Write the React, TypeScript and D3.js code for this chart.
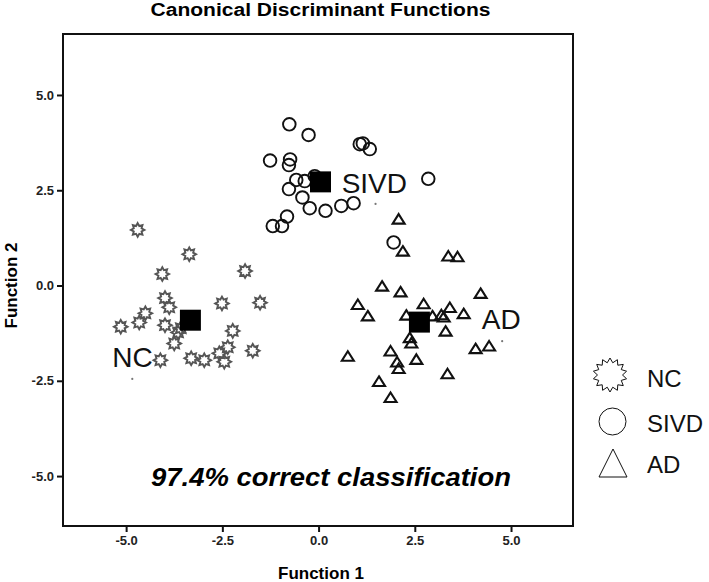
import React, { useEffect, useRef } from 'react';
import { select, scaleLinear, axisBottom, axisLeft, symbol, symbolSquare } from 'd3';

// group NC (stars)
const ncPoints = [
  [-4.7, 1.46], [-3.36, 0.82], [-4.06, 0.3], [-1.91, 0.38], [-3.99, -0.33],
  [-3.88, -0.57], [-2.51, -0.47], [-1.52, -0.45], [-4.5, -0.73], [-4.66, -0.97],
  [-5.14, -1.08], [-3.99, -1.04], [-3.65, -1.23], [-3.75, -1.52], [-2.23, -1.19],
  [-2.36, -1.62], [-2.58, -1.78], [-2.45, -2.0], [-1.71, -1.71], [-4.11, -1.96],
  [-3.31, -1.91], [-2.97, -1.96], [-3.58, -1.12],
];

// group SIVD (circles)
const sivdPoints = [
  [-0.76, 4.23], [-0.26, 3.95], [1.07, 3.71], [1.15, 3.73], [1.33, 3.58],
  [-1.26, 3.28], [-0.74, 3.31], [-0.77, 3.16], [-0.58, 2.77], [-0.36, 2.74],
  [-0.1, 2.87], [-0.77, 2.53], [-0.42, 2.31], [-0.23, 2.03], [0.18, 1.96],
  [0.59, 2.09], [0.91, 2.16], [2.85, 2.8], [-0.82, 1.81], [-1.19, 1.56],
  [-0.95, 1.56], [1.95, 1.13],
];

// group AD (triangles)
const adPoints = [
  [2.08, 1.75], [2.19, 0.91], [3.37, 0.78], [3.61, 0.76], [1.65, -0.01],
  [2.13, -0.16], [4.21, -0.2], [1.02, -0.49], [2.73, -0.47], [1.28, -0.79],
  [2.28, -0.77], [2.96, -0.79], [3.19, -0.76], [3.25, -0.82], [3.41, -0.57],
  [3.77, -0.73], [3.3, -1.19], [2.37, -1.36], [2.41, -1.5], [4.08, -1.65],
  [4.43, -1.58], [0.76, -1.85], [1.87, -1.71], [2.04, -2.0], [2.08, -2.17],
  [2.54, -1.93], [3.35, -2.31], [1.57, -2.51], [1.87, -2.93],
];

const groups = ['NC', 'SIVD', 'AD'];
const centroids = [[-3.33, -0.91], [0.05, 2.72], [2.62, -0.96]];
const labelDots = [[-4.84, -2.45], [1.48, 2.14], [4.77, -1.46]];
const labelPos = [[-5.36, -2.14], [0.6, 2.43], [4.24, -1.14]];
const ticks = [-5, -2.5, 0, 2.5, 5];

const FONT = '"Liberation Sans", Arial, sans-serif';

const starPath = (n, ro, ri) => {
  let d = '';
  for (let i = 0; i < n * 2; i++) {
    const r = i % 2 === 0 ? ro : ri;
    const a = (Math.PI * i) / n - Math.PI / 2;
    d += (i === 0 ? 'M' : 'L') + (r * Math.cos(a)).toFixed(2) + ',' + (r * Math.sin(a)).toFixed(2);
  }
  return d + 'Z';
};

const triPath = (w, h) => `M0,${-h / 2}L${w / 2},${h / 2}L${-w / 2},${h / 2}Z`;

const App = () => {
  const svgRef = useRef();

  useEffect(() => {
    const svg = select(svgRef.current);
    svg.selectAll('*').remove();

    const left = 63, right = 573, top = 34, bottom = 526;
    const x = scaleLinear().domain([-6.64, 6.61]).range([left, right]);
    const y = scaleLinear().domain([-6.31, 6.6]).range([bottom, top]);

    svg.append('text')
      .attr('x', 320.5).attr('y', 16)
      .attr('text-anchor', 'middle')
      .attr('font-family', FONT).attr('font-weight', 'bold').attr('font-size', 18)
      .attr('textLength', 340).attr('lengthAdjust', 'spacingAndGlyphs')
      .text('Canonical Discriminant Functions');

    // frame
    svg.append('rect')
      .attr('x', left).attr('y', top)
      .attr('width', right - left).attr('height', bottom - top)
      .attr('fill', 'none').attr('stroke', '#111').attr('stroke-width', 2);

    const xAxis = svg.append('g')
      .attr('transform', `translate(0,${bottom})`)
      .call(axisBottom(x).tickValues(ticks).tickFormat((d) => d.toFixed(1)).tickSize(6).tickPadding(4));
    const yAxis = svg.append('g')
      .attr('transform', `translate(${left},0)`)
      .call(axisLeft(y).tickValues(ticks).tickFormat((d) => d.toFixed(1)).tickSize(6).tickPadding(3));
    [xAxis, yAxis].forEach((g) => {
      g.select('.domain').remove();
      g.selectAll('line').attr('stroke', '#111').attr('stroke-width', 2);
      g.selectAll('text')
        .attr('font-family', FONT).attr('font-weight', 'bold').attr('font-size', 13).attr('fill', '#222');
    });

    svg.append('text')
      .attr('x', 321).attr('y', 579)
      .attr('text-anchor', 'middle')
      .attr('font-family', FONT).attr('font-weight', 'bold').attr('font-size', 17)
      .text('Function 1');
    svg.append('text')
      .attr('transform', `translate(17,${y(0)}) rotate(-90)`)
      .attr('text-anchor', 'middle')
      .attr('font-family', FONT).attr('font-weight', 'bold').attr('font-size', 17)
      .text('Function 2');

    const plot = svg.append('g');

    plot.selectAll('.nc').data(ncPoints).enter().append('path')
      .attr('class', 'nc')
      .attr('d', starPath(8, 6.8, 4.2))
      .attr('transform', (d) => `translate(${x(d[0])},${y(d[1])})`)
      .attr('fill', 'none').attr('stroke', '#555').attr('stroke-width', 1.9);

    plot.selectAll('.sivd').data(sivdPoints).enter().append('circle')
      .attr('class', 'sivd')
      .attr('cx', (d) => x(d[0])).attr('cy', (d) => y(d[1])).attr('r', 6.3)
      .attr('fill', 'none').attr('stroke', '#111').attr('stroke-width', 1.9);

    plot.selectAll('.ad').data(adPoints).enter().append('path')
      .attr('class', 'ad')
      .attr('d', triPath(12, 9.5))
      .attr('transform', (d) => `translate(${x(d[0])},${y(d[1])})`)
      .attr('fill', 'none').attr('stroke', '#111').attr('stroke-width', 2.1).attr('stroke-linejoin', 'miter');

    plot.selectAll('.centroid').data(centroids).enter().append('path')
      .attr('class', 'centroid')
      .attr('d', symbol(symbolSquare, 441))
      .attr('transform', (d) => `translate(${x(d[0])},${y(d[1])})`)
      .attr('fill', '#000');

    plot.selectAll('.ldot').data(labelDots).enter().append('circle')
      .attr('class', 'ldot')
      .attr('cx', (d) => x(d[0])).attr('cy', (d) => y(d[1])).attr('r', 1.1)
      .attr('fill', '#777');

    plot.selectAll('.glabel').data(labelPos).enter().append('text')
      .attr('class', 'glabel')
      .attr('x', (d) => x(d[0])).attr('y', (d) => y(d[1]))
      .attr('font-family', FONT).attr('font-size', 28).attr('fill', '#111')
      .text((d, i) => groups[i]);

    svg.append('text')
      .attr('x', 331).attr('y', 486)
      .attr('text-anchor', 'middle')
      .attr('font-family', FONT).attr('font-weight', 'bold').attr('font-style', 'italic').attr('font-size', 25)
      .attr('textLength', 360).attr('lengthAdjust', 'spacingAndGlyphs')
      .text('97.4% correct classification');

    // legend
    const lg = svg.append('g');
    lg.append('path').attr('d', starPath(14, 17, 12.5)).attr('transform', 'translate(610,375)')
      .attr('fill', 'none').attr('stroke', '#111').attr('stroke-width', 1);
    lg.append('circle').attr('cx', 612.5).attr('cy', 421.5).attr('r', 13.5)
      .attr('fill', 'none').attr('stroke', '#111').attr('stroke-width', 1);
    lg.append('path').attr('d', triPath(28, 28)).attr('transform', 'translate(613,463)')
      .attr('fill', 'none').attr('stroke', '#111').attr('stroke-width', 1);
    [387, 432, 473].forEach((by, i) => {
      lg.append('text').attr('x', 647).attr('y', by)
        .attr('font-family', FONT).attr('font-size', 24).attr('fill', '#111')
        .text(groups[i]);
    });
  }, []);

  return (
    <svg ref={svgRef} width={709} height={582}
      style={{ position: 'absolute', left: 0, top: 0, background: '#fff' }}></svg>
  );
};

export default App;
